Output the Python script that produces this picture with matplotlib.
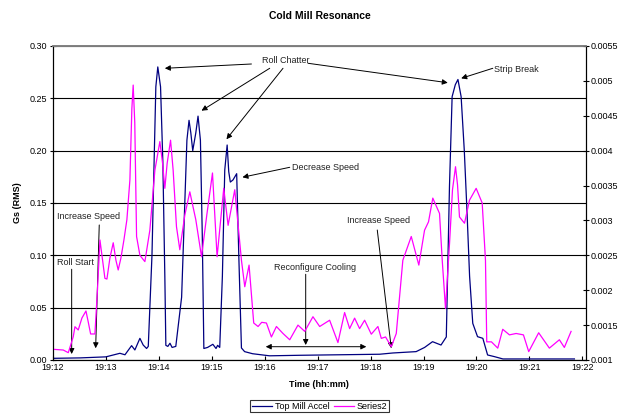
import matplotlib
matplotlib.use("Agg")
import matplotlib.pyplot as plt
import numpy as np

plt.rcParams['font.family'] = ['Liberation Sans', 'DejaVu Sans']
plt.rcParams['font.size'] = 6.5

# time in minutes after 19:12
accel_t = [0.0, 0.51, 1.0, 1.264, 1.36, 1.485, 1.547, 1.642, 1.704, 1.768,
           1.80, 1.87, 1.906, 1.943, 1.98, 2.032, 2.075, 2.113, 2.132, 2.17,
           2.21, 2.25, 2.32, 2.43, 2.49, 2.53, 2.57, 2.604, 2.64, 2.698,
           2.74, 2.785, 2.82, 2.85, 2.92, 3.02, 3.08, 3.11, 3.15, 3.20,
           3.245, 3.29, 3.32, 3.35, 3.40, 3.47, 3.51, 3.56, 3.62, 3.77,
           4.09, 4.66, 5.42, 6.17, 6.42, 6.86, 7.02, 7.17, 7.33, 7.43,
           7.49, 7.54, 7.60, 7.65, 7.71, 7.77, 7.82, 7.87, 7.93, 8.02,
           8.12, 8.21, 8.34, 8.50, 9.19, 9.85]
accel_g = [0.0016, 0.002, 0.003, 0.0064, 0.005, 0.0137, 0.0096, 0.0207, 0.0143, 0.011,
           0.013, 0.10, 0.18, 0.261, 0.28, 0.261, 0.19, 0.08, 0.014, 0.013,
           0.016, 0.012, 0.013, 0.06, 0.15, 0.21, 0.229, 0.217, 0.200, 0.217,
           0.233, 0.21, 0.12, 0.011, 0.012, 0.015, 0.011, 0.014, 0.012, 0.08,
           0.1815, 0.2054, 0.18, 0.170, 0.172, 0.178, 0.10, 0.0115, 0.008, 0.006,
           0.004, 0.0045, 0.005, 0.0055, 0.0067, 0.008, 0.012, 0.0175, 0.0143, 0.022,
           0.166, 0.2516, 0.263, 0.268, 0.2516, 0.20, 0.143, 0.08, 0.035, 0.0223,
           0.0207, 0.0048, 0.0032, 0.001, 0.001, 0.001]

series2_t = [0.006, 0.194, 0.289, 0.383, 0.415, 0.477, 0.547, 0.623, 0.666, 0.711,
             0.792, 0.84, 0.887, 0.925, 0.981, 1.019, 1.075, 1.138, 1.189, 1.232,
             1.283, 1.34, 1.396, 1.453, 1.49, 1.515, 1.545, 1.579, 1.642, 1.736,
             1.83, 1.925, 2.019, 2.07, 2.113, 2.157, 2.221, 2.27, 2.333, 2.396,
             2.491, 2.585, 2.698, 2.806, 2.906, 3.013, 3.1, 3.226, 3.308, 3.434,
             3.56, 3.623, 3.704, 3.792, 3.874, 3.943, 4.032, 4.126, 4.221, 4.345,
             4.472, 4.628, 4.755, 4.911, 5.038, 5.226, 5.383, 5.509, 5.604, 5.698,
             5.792, 5.887, 6.013, 6.138, 6.202, 6.283, 6.391, 6.485, 6.609, 6.768,
             6.911, 7.019, 7.094, 7.175, 7.302, 7.353, 7.415, 7.491, 7.547, 7.604,
             7.642, 7.679, 7.774, 7.868, 7.994, 8.108, 8.17, 8.194, 8.283, 8.402,
             8.496, 8.623, 8.749, 8.887, 8.987, 9.175, 9.377, 9.566, 9.66, 9.787]
series2_v = [0.001153, 0.001143, 0.001105, 0.001334, 0.001477, 0.00143, 0.001602, 0.001702, 0.001545, 0.001373,
             0.001373, 0.002, 0.00272, 0.0025, 0.00217, 0.00216, 0.00246, 0.00268, 0.00243, 0.00229,
             0.00246, 0.00272, 0.00301, 0.00358, 0.0046, 0.00494, 0.0044, 0.00277, 0.0025, 0.00241,
             0.00286, 0.00372, 0.00413, 0.00382, 0.00346, 0.00382, 0.00415, 0.00372, 0.00291, 0.00258,
             0.00308, 0.00341, 0.00301, 0.00248, 0.00308, 0.00368, 0.00248, 0.00346, 0.00293, 0.00344,
             0.00243, 0.00205, 0.00236, 0.00153, 0.00148, 0.00154, 0.00153, 0.00133, 0.00148, 0.00138,
             0.00129, 0.0015, 0.00141, 0.00162, 0.00148, 0.00157, 0.00125, 0.00168, 0.00145, 0.0016,
             0.00145, 0.00157, 0.00137, 0.00148, 0.00131, 0.00133, 0.00119, 0.00138, 0.00243, 0.00277,
             0.00236, 0.00286, 0.00298, 0.00332, 0.0031, 0.00243, 0.00174, 0.00267, 0.00344, 0.00377,
             0.00351, 0.00305, 0.00296, 0.00329, 0.00346, 0.00325, 0.00243, 0.00126, 0.00126, 0.00117,
             0.00144, 0.00136, 0.00138, 0.00136, 0.00112, 0.00139, 0.00117, 0.00129, 0.00118, 0.00141]

tick_labels = ["19:12", "19:13", "19:14", "19:15", "19:16", "19:17",
               "19:18", "19:19", "19:20", "19:21", "19:22"]

fig = plt.figure(figsize=(6.33, 4.17), dpi=100)
ax = fig.add_axes([0.0837, 0.1367, 0.8413, 0.753])
ax2 = ax.twinx()

ax.set_xlim(0, 10.06)
ax.set_ylim(0, 0.30)
ax2.set_ylim(0.001, 0.0055)

ax.set_yticks(np.arange(0, 0.301, 0.05))
ax.yaxis.set_major_formatter(matplotlib.ticker.FormatStrFormatter('%.2f'))
ax2.set_yticks(np.arange(0.001, 0.00551, 0.0005))
ax2.set_yticklabels(["0.001", "0.0015", "0.002", "0.0025", "0.003", "0.0035",
                     "0.004", "0.0045", "0.005", "0.0055"])
ax.set_xticks(range(len(tick_labels)))
ax.set_xticklabels(tick_labels)

ax.grid(axis='y', color='black', linewidth=0.8, zorder=0)
ax.set_axisbelow(True)
for a in (ax, ax2):
    a.spines['top'].set_color('#808080')
    a.spines['top'].set_linewidth(1.2)
    a.tick_params(direction='inout', length=4, width=0.8, labelsize=6.5, pad=2)
ax.tick_params(axis='x', direction='in', length=3)

l1, = ax.plot(accel_t, accel_g, color='#000080', linewidth=0.9, label='Top Mill Accel')
l2, = ax2.plot(series2_t, series2_v, color='#FF00FF', linewidth=0.9, label='Series2')

ax.set_ylabel("Gs (RMS)", fontweight='bold', fontsize=6.5, labelpad=6)
ax.set_xlabel("Time (hh:mm)", fontweight='bold', fontsize=6.5, labelpad=6)
fig.text(0.505, 0.962, "Cold Mill Resonance", ha='center', va='center',
         fontweight='bold', fontsize=7.5)

arrow = dict(arrowstyle='-|>', color='black', lw=0.7, mutation_scale=8,
             shrinkA=0, shrinkB=0)


def note(tail, head, style=arrow):
    ax.annotate('', xy=head, xytext=tail, arrowprops=style, zorder=5)


txt = dict(fontsize=6.5, va='center', ha='left', color='#222222', zorder=6)
ax.text(3.945, 0.2866, "Roll Chatter", **txt)
note((3.749, 0.2828), (2.113, 0.2787))
note((4.094, 0.2787), (2.806, 0.2382))
note((4.345, 0.2787), (3.277, 0.2109))
note((4.817, 0.2835), (7.458, 0.2649))
ax.text(8.34, 0.2777, "Strip Break", **txt)
note((8.308, 0.2787), (7.711, 0.2691))
ax.text(4.523, 0.1837, "Decrease Speed", **txt)
note((4.472, 0.1841), (3.579, 0.1746))
ax.text(0.07, 0.1369, "Increase Speed", **txt)
note((0.874, 0.129), (0.806, 0.0112))
ax.text(0.07, 0.093, "Roll Start", **txt)
note((0.353, 0.0867), (0.353, 0.0057))
ax.text(4.17, 0.0886, "Reconfigure Cooling", **txt)
note((4.774, 0.0819), (4.774, 0.0143))
note((4.019, 0.0127), (5.919, 0.0127),
     dict(arrowstyle='<|-|>', color='black', lw=0.7, mutation_scale=8,
          shrinkA=0, shrinkB=0))
ax.text(5.553, 0.1328, "Increase Speed", **txt)
note((6.126, 0.1242), (6.391, 0.0112))

leg = fig.legend([l1, l2], ['Top Mill Accel', 'Series2'], loc='lower center',
                 bbox_to_anchor=(0.505, 0.0), ncol=2, fontsize=6.5, frameon=True,
                 fancybox=False, edgecolor='black', handlelength=2.2,
                 handletextpad=0.3, columnspacing=0.5, borderpad=0.2)
leg.get_frame().set_linewidth(0.8)

fig.savefig("out.png", dpi=100)
